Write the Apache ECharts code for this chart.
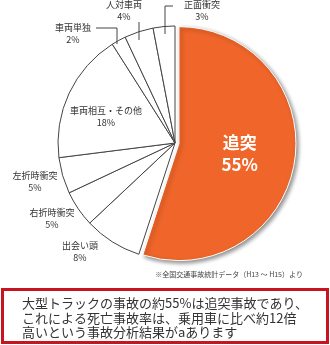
<!DOCTYPE html>
<html><head><meta charset="utf-8">
<script src="https://cdn.jsdelivr.net/npm/echarts@6/dist/echarts.min.js"></script>
<style>html,body{margin:0;padding:0;background:#fff}#c{width:330px;height:345px}</style>
</head><body><div id="c"></div>
<script>
const categories = ['追突','出会い頭','右折時衝突','左折時衝突','車両相互・その他','車両単独','人対車両','正面衝突'];
const values = [55, 8, 5, 5, 18, 2, 4, 3];
const labelPos = [[230,152],[80,252],[52,219],[35,182],[106,117],[73,34],[124,11],[202,11]];
const leaders = [
  [[165,34],[165,6],[173,6]],
  [[139,40],[139,22]],
  [[96,28],[117,28],[117,44]]
];
const note = '※全国交通事故統計データ（H13 ～ H15）より';
const message = '大型トラックの事故の約55%は追突事故であり、\nこれによる死亡事故率は、乗用車に比べ約12倍\n高いという事故分析結果がaあります';

const chart = echarts.init(document.getElementById('c'), null, {renderer:'canvas'});
const font = '"Noto Sans CJK JP", sans-serif';
const data = categories.map((n,i)=>{
  const d = {name:n, value:values[i]};
  if (i===0) {
    d.selected = true;
    d.itemStyle = {color:'#f0662a', borderColor:'#fff', borderWidth:1,
      shadowBlur:4, shadowColor:'rgba(0,0,0,0.45)', shadowOffsetX:2, shadowOffsetY:2};
    d.label = {color:'#fff', fontSize:17, fontWeight:'bold', lineHeight:22};
  }
  return d;
});
chart.setOption({
  animation:false,
  graphic:[
    ...leaders.map(p=>({type:'polyline', shape:{points:p}, style:{stroke:'#444', lineWidth:1, fill:null}, z:10})),
    {type:'text', right:27, top:271, style:{text:note, fontSize:7, fill:'#444', fontFamily:font}},
    {type:'rect', shape:{x:2.5, y:289.5, width:325, height:53}, style:{fill:'#fff', stroke:'#c8141e', lineWidth:3}},
    {type:'text', left:22, top:296, style:{text:message, fontSize:13, lineHeight:14.5, fill:'#333', fontFamily:font}}
  ],
  series:[{
    type:'pie',
    center:[175,143],
    radius:117,
    startAngle:90,
    clockwise:true,
    selectedMode:'single',
    selectedOffset:4,
    avoidLabelOverlap:false,
    itemStyle:{color:'#fff', borderColor:'#444', borderWidth:1},
    label:{show:true, position:'inside', formatter:'{b}\n{c}%', fontSize:9, lineHeight:12, color:'#333', fontFamily:font},
    labelLine:{show:false},
    labelLayout:(p)=>({x:labelPos[p.dataIndex][0], y:labelPos[p.dataIndex][1], align:'center', verticalAlign:'middle'}),
    emphasis:{disabled:true},
    data
  }]
});
</script></body></html>
